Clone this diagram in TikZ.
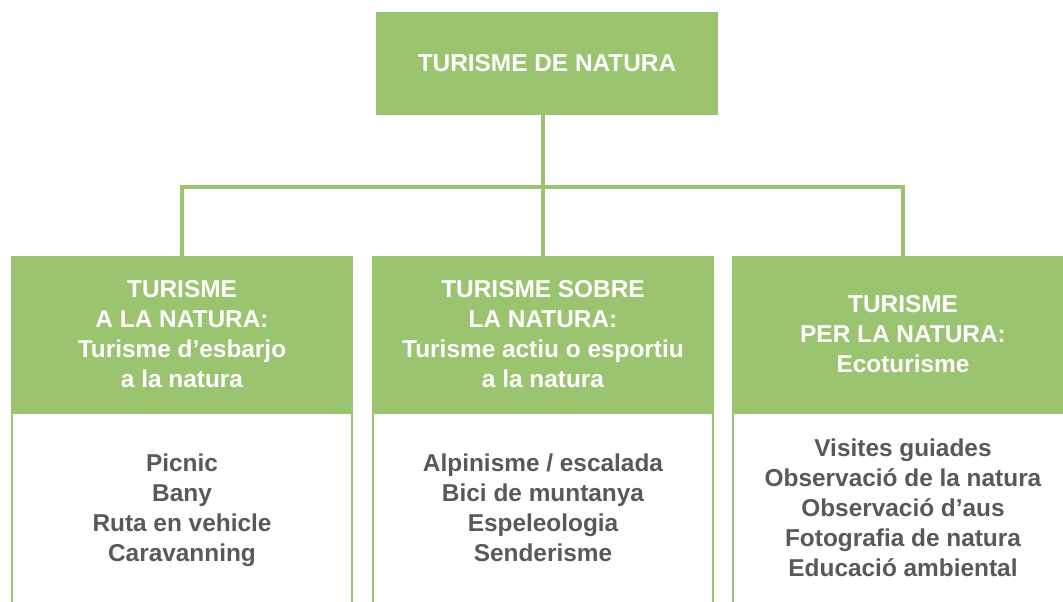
\documentclass[tikz,border=0pt]{standalone}
\usepackage{fontspec}
\setmainfont{Liberation Sans}
\definecolor{natgreen}{RGB}{155,196,113}
\definecolor{itemgray}{RGB}{88,89,91}
\tikzset{
  boxfont/.style={font=\bfseries\fontsize{18.3}{22.5}\selectfont, align=center, inner sep=0pt},
  greenbox/.style={boxfont, fill=natgreen, text=white, minimum width=256.5pt},
  listbox/.style={boxfont, draw=natgreen, line width=1.5pt, fill=white, text=itemgray,
    minimum width=255pt, minimum height=142.5pt},
  link/.style={draw=natgreen, line width=3pt}
}
\begin{document}
\begin{tikzpicture}[x=0.75pt, y=-0.75pt]
            \clip (0,0) rectangle (1063,601);
            \node[greenbox, minimum height=77.25pt] (natura) at (547,63.5) {TURISME DE NATURA};
            \node[listbox, text depth=0pt] (esbarjoList) at (182,508) {Picnic\\Bany\\Ruta en vehicle\\Caravanning};
            \node[listbox, text depth=0pt] (actiuList) at (543,508) {Alpinisme / escalada\\Bici de muntanya\\Espeleologia\\Senderisme};
            \node[listbox] (ecoList) at (903,508) {Visites guiades\\Observació de la natura\\Observació d’aus\\Fotografia de natura\\Educació ambiental};
            \node[greenbox, minimum height=117pt] (esbarjo) at (182,334) {TURISME\\A LA NATURA:\\Turisme d’esbarjo\\a la natura};
            \node[greenbox, minimum height=117pt] (actiu) at (543,334) {TURISME SOBRE\\LA NATURA:\\Turisme actiu o esportiu\\a la natura};
            \node[greenbox, minimum height=117pt] (eco) at (903,334) {TURISME\\PER LA NATURA:\\Ecoturisme};
            \coordinate (bus) at (actiu.north |- 0,187);
            \draw[link] (natura.south -| bus) -- (actiu.north);
            \draw[link] (esbarjo.north) |- (bus) -| (eco.north);
          \end{tikzpicture}
\end{document}
